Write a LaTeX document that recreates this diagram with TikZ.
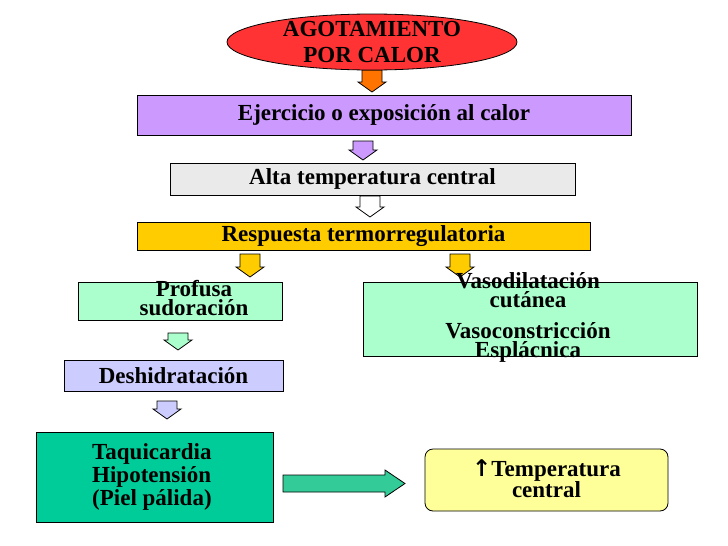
\documentclass[tikz,border=0pt]{standalone}
\usepackage{fontspec}
\setmainfont{Liberation Serif}
\newfontfamily\symf{DejaVu Sans}
\usetikzlibrary{shapes.geometric}
\definecolor{cred}{HTML}{FF3333}
\definecolor{clav}{HTML}{CC99FF}
\definecolor{cgray}{HTML}{EAEAEA}
\definecolor{cyel}{HTML}{FFCC00}
\definecolor{cmint}{HTML}{AAFFCC}
\definecolor{cblue}{HTML}{CCCCFF}
\definecolor{cteal}{HTML}{00CC99}
\definecolor{carr}{HTML}{33CC99}
\definecolor{clight}{HTML}{FFFF99}
\newcommand\dnarrow[4]{% x, ytop, ybot, fill
  \draw[thick,fill=#4] (#1-10,#2) -- (#1+10,#2) -- (#1+10,#3-10) -- (#1+14,#3-10) -- (#1,#3) -- (#1-14,#3-10) -- (#1-10,#3-10) -- cycle;}
\begin{document}
\begin{tikzpicture}[x=1pt,y=-1pt,
  box/.style={draw=black,thick,font=\bfseries\fontsize{23}{20}\selectfont,align=center,inner sep=0}]
\useasboundingbox (0,0) rectangle (728,546);
\dnarrow{372}{70}{92}{orange!90!red}
\node[ellipse,draw=black,thick,fill=cred,minimum width=290,minimum height=56,inner sep=0] (e) at (372,42) {};
\node[font=\bfseries\fontsize{23}{26}\selectfont,align=center,inner sep=0] (te) at (372,42) {AGOTAMIENTO\\POR CALOR};
\node[box,fill=clav,minimum width=494,minimum height=40] (b1) at (384,115) {Ejercicio o exposición al calor};
\dnarrow{363}{141}{160}{clav}
\node[box,fill=cgray,minimum width=405,minimum height=32] (b2) at (372.5,179) {Alta temperatura central};
\dnarrow{370}{196}{217}{white}
\node[box,fill=cyel,minimum width=453,minimum height=28] (b3) at (363.5,236) {Respuesta termorregulatoria};
\dnarrow{250}{254}{277}{cyel}
\dnarrow{460}{254}{277}{cyel}
\node[box,fill=cmint,minimum width=204,minimum height=38] (b4) at (180,301) {};
\node[font=\bfseries\fontsize{23}{19}\selectfont,align=center,inner sep=0] (t4) at (194,298) {Profusa\\sudoración};
\node[box,fill=cmint,minimum width=334,minimum height=74] (b5) at (530,319) {};
\node[font=\bfseries\fontsize{23}{19}\selectfont,align=center,inner sep=0] (t5a) at (528,290) {Vasodilatación\\cutánea};
\node[font=\bfseries\fontsize{23}{19}\selectfont,align=center,inner sep=0] (t5b) at (528,342) {Vasoconstricción\\Esplácnica};
\dnarrow{178}{333}{350}{cmint}
\node[box,fill=cblue,minimum width=219,minimum height=31] (b6) at (173.5,375.5) {Deshidratación};
\dnarrow{167}{401}{419}{cblue}
\node[box,fill=cteal,minimum width=237,minimum height=90] (b7) at (154.5,477) {};
\node[font=\bfseries\fontsize{23}{23}\selectfont,align=left,inner sep=0,anchor=west] (t7) at (92,477) {Taquicardia\\Hipotensión\\(Piel pálida)};
\node[draw=black,thick,fill=clight,rounded corners=8,minimum width=243,minimum height=62,inner sep=0] (b8) at (546.5,480) {};
\node[align=center,inner sep=0,font=\bfseries\fontsize{23}{21}\selectfont] (t8) at (546.5,479) {{\symf\bfseries ↑}Temperatura\\central};
\draw[thick,fill=carr] (283,475) -- (385,475) -- (385,470) -- (405,483.5) -- (385,497) -- (385,492) -- (283,492) -- cycle;
\end{tikzpicture}
\end{document}
